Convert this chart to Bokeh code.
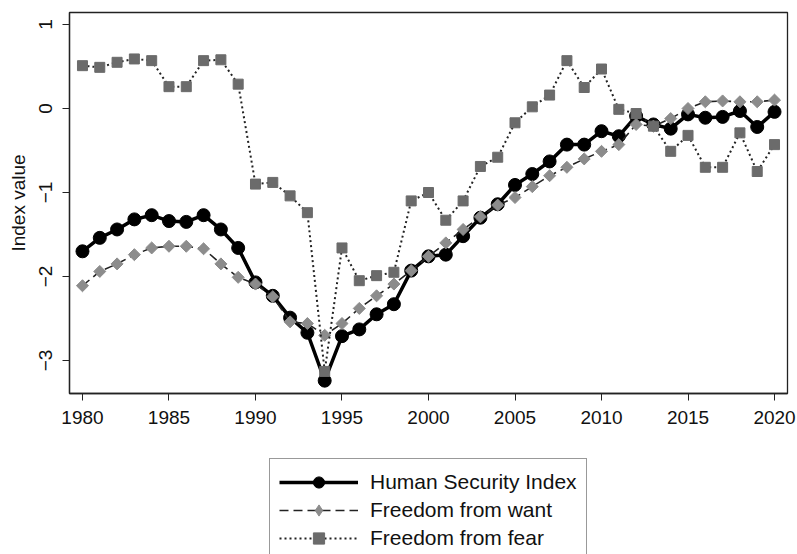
import numpy as np
from bokeh.plotting import figure
from bokeh.layouts import column
from bokeh.models import Range1d, Legend, LegendItem, FixedTicker
from bokeh.embed import file_html
from bokeh.resources import INLINE

# Annual index values, 1980-2020
years = list(range(1980, 2021))

human_security = [
    -1.70, -1.54, -1.44, -1.32, -1.27, -1.34, -1.35, -1.27, -1.44, -1.66,
    -2.07, -2.23, -2.49, -2.67, -3.24, -2.71, -2.63, -2.45, -2.33, -1.93,
    -1.76, -1.74, -1.52, -1.30, -1.14, -0.91, -0.78, -0.63, -0.43, -0.43,
    -0.27, -0.33, -0.09, -0.19, -0.24, -0.07, -0.11, -0.10, -0.03, -0.22,
    -0.04,
]

freedom_from_want = [
    -2.11, -1.94, -1.85, -1.74, -1.66, -1.64, -1.64, -1.67, -1.85, -2.01,
    -2.09, -2.24, -2.54, -2.56, -2.70, -2.56, -2.38, -2.23, -2.09, -1.93,
    -1.76, -1.60, -1.44, -1.29, -1.15, -1.06, -0.93, -0.80, -0.70, -0.60,
    -0.51, -0.43, -0.19, -0.21, -0.12, 0.00, 0.08, 0.09, 0.08, 0.08,
    0.10,
]

freedom_from_fear = [
    0.51, 0.49, 0.55, 0.59, 0.57, 0.26, 0.26, 0.57, 0.58, 0.29,
    -0.90, -0.88, -1.04, -1.24, -3.13, -1.66, -2.05, -1.99, -1.95, -1.10,
    -1.00, -1.33, -1.10, -0.69, -0.58, -0.17, 0.02, 0.16, 0.57, 0.25,
    0.47, -0.01, -0.06, -0.21, -0.51, -0.32, -0.70, -0.70, -0.29, -0.75,
    -0.43,
]

series_labels = ["Human Security Index", "Freedom from want", "Freedom from fear"]

x_ticks = [1980, 1985, 1990, 1995, 2000, 2005, 2010, 2015, 2020]
y_ticks = [-3, -2, -1, 0, 1]

FONT = "Liberation Sans"

# Line and marker styling per series
STYLES = [
    dict(line=dict(line_color="black", line_width=3.5),
         marker=dict(marker="circle", size=13, fill_color="black", line_color="black")),
    dict(line=dict(line_color="#222222", line_width=1.6, line_dash="9 5"),
         marker=dict(marker="square", angle=np.pi / 4, size=8.5,
                     fill_color="#8c8c8c", line_color="#8c8c8c")),
    dict(line=dict(line_color="#222222", line_width=2, line_dash="2 3"),
         marker=dict(marker="square", size=10, fill_color="#6b6b6b", line_color="#6b6b6b")),
]
SERIES = [human_security, freedom_from_want, freedom_from_fear]

p = figure(
    width=797, height=440,
    output_backend="svg", toolbar_location=None,
    x_range=Range1d(1979.25, 2020.75),
    y_range=Range1d(-3.393, 1.143),
    min_border_left=69, min_border_right=10,
    min_border_top=12, min_border_bottom=47,
)

p.background_fill_color = "white"
p.border_fill_color = "white"
p.outline_line_color = "#222222"
p.outline_line_width = 1.3
p.xgrid.visible = False
p.ygrid.visible = False

for ax in (p.xaxis[0], p.yaxis[0]):
    ax.axis_line_color = "#222222"
    ax.axis_line_width = 1.3
    ax.major_tick_line_color = "#222222"
    ax.major_tick_in = 0
    ax.major_tick_out = 7
    ax.minor_tick_line_color = None
    ax.major_label_text_font = FONT
    ax.major_label_text_font_size = "19px"
    ax.major_label_text_color = "#111111"

p.xaxis.ticker = FixedTicker(ticks=x_ticks)
p.yaxis.ticker = FixedTicker(ticks=y_ticks)
p.xaxis.major_label_standoff = 10
p.yaxis.major_label_standoff = 10
p.yaxis.major_label_orientation = "vertical"

p.yaxis.axis_label = "Index value"
p.yaxis.axis_label_text_font = FONT
p.yaxis.axis_label_text_font_size = "19px"
p.yaxis.axis_label_text_font_style = "normal"
p.yaxis.axis_label_text_color = "#111111"
p.yaxis.axis_label_standoff = 8

# Series drawn in order: index, want, fear (fear markers on top)
for values, style in zip(SERIES, STYLES):
    p.line(years, values, **style["line"])
    p.scatter(years, values, **style["marker"])

# Legend panel below the chart; its key glyphs come from hidden renderers
# carrying the same styling (the legend key draws markers unrotated, so the
# want series uses the diamond marker there)
KEY_MARKERS = [
    STYLES[0]["marker"],
    dict(marker="diamond", size=12, fill_color="#8c8c8c", line_color="#8c8c8c"),
    STYLES[2]["marker"],
]

leg_fig = figure(
    width=797, height=114,
    output_backend="svg", toolbar_location=None,
    x_axis_location=None, y_axis_location=None,
    min_border_left=0, min_border_right=0,
    min_border_top=0, min_border_bottom=0,
)
leg_fig.outline_line_color = None
leg_fig.xgrid.visible = False
leg_fig.ygrid.visible = False
leg_fig.background_fill_color = "white"
leg_fig.border_fill_color = "white"

items = []
for label, values, style, key_marker in zip(series_labels, SERIES, STYLES, KEY_MARKERS):
    key_line = leg_fig.line(years, values, visible=False, **style["line"])
    key_mark = leg_fig.scatter(years, values, visible=False, **key_marker)
    items.append(LegendItem(label=label, renderers=[key_line, key_mark]))

legend = Legend(
    items=items,
    location=(200, -8),
    orientation="vertical",
    glyph_width=79, glyph_height=28,
    label_standoff=12, spacing=0,
    padding=9, margin=0,
    label_text_font=FONT, label_text_font_size="21px",
    label_text_color="#111111",
    border_line_color="#333333", border_line_width=1.2,
    background_fill_color="white", background_fill_alpha=1.0,
    inactive_fill_alpha=0.0,
)
leg_fig.add_layout(legend, "center")

layout = column(p, leg_fig, spacing=0)
open("out.html", "w").write(file_html(layout, INLINE))
